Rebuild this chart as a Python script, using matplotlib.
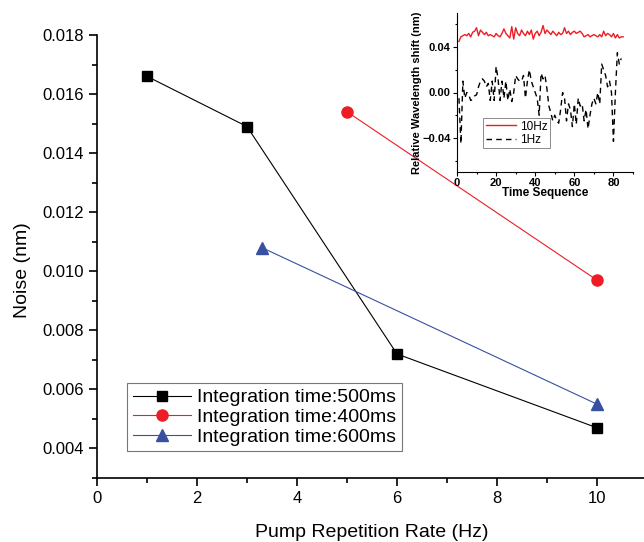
import matplotlib
matplotlib.use("Agg")
import matplotlib.pyplot as plt
from matplotlib.ticker import MultipleLocator
import numpy as np

plt.rcParams["font.family"] = ["Liberation Sans", "DejaVu Sans"]

# main chart data
x500 = [1, 3, 6, 10]
y500 = [0.0166, 0.0149, 0.0072, 0.0047]
x400 = [5, 10]
y400 = [0.0154, 0.0097]
x600 = [3.3, 10]
y600 = [0.0108, 0.0055]

# inset data (relative wavelength shift, nm)
shift_10hz = [
    0.045, 0.049, 0.050, 0.051, 0.050, 0.052, 0.049, 0.053, 0.054, 0.057,
    0.050, 0.055, 0.053, 0.051, 0.053, 0.050, 0.051, 0.050, 0.049, 0.052,
    0.050, 0.049, 0.052, 0.056, 0.052, 0.050, 0.048, 0.058, 0.047, 0.057,
    0.052, 0.050, 0.055, 0.052, 0.050, 0.054, 0.051, 0.055, 0.047, 0.052,
    0.054, 0.050, 0.053, 0.059, 0.052, 0.055, 0.053, 0.051, 0.054, 0.052,
    0.050, 0.053, 0.051, 0.052, 0.057, 0.052, 0.054, 0.051, 0.053, 0.054,
    0.052, 0.053, 0.054, 0.052, 0.049, 0.050, 0.051, 0.049, 0.050, 0.051,
    0.050, 0.049, 0.051, 0.049, 0.054, 0.050, 0.052, 0.051, 0.049, 0.052,
    0.048, 0.051, 0.048, 0.049, 0.049,
]
shift_1hz = [
    -0.005, -0.045, 0.010, -0.005, 0.000, -0.002, -0.007, -0.006, -0.003, -0.002,
    0.005, 0.010, 0.012, 0.010, 0.005, 0.008, -0.007, 0.010, -0.007, 0.023,
    0.012, -0.007, 0.010, -0.005, 0.010, -0.007, 0.003, -0.008, 0.000, 0.015,
    0.012, 0.010, 0.010, 0.015, -0.005, 0.010, 0.020, 0.010, 0.005, 0.000,
    -0.005, -0.020, 0.017, 0.012, 0.015, 0.003, -0.012, -0.018, -0.025, -0.020,
    -0.025, -0.027, -0.015, 0.000, -0.005, -0.025, -0.010, -0.015, -0.030, -0.010,
    -0.028, -0.005, -0.012, -0.010, -0.025, -0.015, -0.032, -0.020, -0.010, -0.005,
    -0.010, 0.000, -0.010, 0.025, 0.020, 0.015, 0.005, 0.010, 0.000, -0.043,
    0.000, 0.035, 0.025, 0.030,
]

RED = "#ee1c24"
BLUE = "#3850a0"

W, H = 644, 542
fig = plt.figure(figsize=(W / 100, H / 100), dpi=100)
ax = fig.add_axes([97 / W, 1 - 478 / H, 550 / W, (478 - 35) / H])

ax.plot(x500, y500, color="black", lw=0.8, marker="s", ms=7, label="Integration time:500ms")
ax.plot(x400, y400, color=RED, lw=0.8, marker="o", ms=8, mfc=RED, mec=RED, label="Integration time:400ms")
ax.plot(x600, y600, color=BLUE, lw=0.8, marker="^", ms=8, mfc=BLUE, mec=BLUE, label="Integration time:600ms")

ax.set_xlim(0, 11)
ax.set_ylim(0.003, 0.018)
ax.xaxis.set_major_locator(MultipleLocator(2))
ax.xaxis.set_minor_locator(MultipleLocator(1))
ax.yaxis.set_minor_locator(MultipleLocator(0.001))
ax.set_yticks(np.arange(0.004, 0.0181, 0.002))
ax.yaxis.set_major_formatter(plt.FuncFormatter(lambda v, p: f"{v:.3f}"))
ax.spines[["top", "right"]].set_visible(False)
ax.spines[["left", "bottom"]].set_linewidth(1.2)
ax.tick_params(which="major", direction="out", length=6, width=1.2, labelsize=12)
ax.tick_params(which="minor", direction="out", length=3.5, width=1.2)
ax.set_xlabel("Pump Repetition Rate (Hz)", fontsize=14, labelpad=13)
ax.set_ylabel("Noise (nm)", fontsize=14, labelpad=8)
ax.yaxis.label.set_y(0.47)

leg = ax.legend(loc="lower left", bbox_to_anchor=(0.055, 0.06), fontsize=14,
                frameon=True, fancybox=False, edgecolor="#555555",
                handlelength=3.0, handletextpad=0.3, borderpad=0.3,
                labelspacing=0.1, borderaxespad=0)
leg.get_frame().set_linewidth(0.8)

# inset
ins = fig.add_axes([457 / W, 1 - 172 / H, 176 / W, (172 - 13) / H])
ins.patch.set_alpha(0)
t = np.arange(1, len(shift_10hz) + 1)
ins.plot(t, shift_10hz, color=RED, lw=1.0, label="10Hz")
t1 = np.arange(1, len(shift_1hz) + 1)
ins.plot(t1, shift_1hz, color="black", lw=1.0, ls=(0, (4, 3)), label="1Hz")
ins.set_xlim(0, 90)
ins.set_ylim(-0.07, 0.07)
ins.set_xticks([0, 20, 40, 60, 80])
ins.xaxis.set_minor_locator(MultipleLocator(10))
ins.set_yticks([-0.04, 0.0, 0.04])
ins.yaxis.set_minor_locator(MultipleLocator(0.02))
ins.yaxis.set_major_formatter(plt.FuncFormatter(lambda v, p: f"{v:.2f}".replace("-", "\u2212")))
ins.spines[["top", "right"]].set_visible(False)
ins.tick_params(which="major", direction="out", length=3, width=0.8, labelsize=8, pad=1.5)
ins.tick_params(which="minor", direction="out", length=1.5, width=0.8)
for lab in ins.get_xticklabels() + ins.get_yticklabels():
    lab.set_fontweight("bold")
ins.set_xlabel("Time Sequence", fontsize=8.5, fontweight="bold", labelpad=-1)
ins.set_ylabel("Relative Wavelength shift (nm)", fontsize=8, fontweight="bold", labelpad=0)
ileg = ins.legend(loc="lower left", bbox_to_anchor=(0.15, 0.15), fontsize=8.5,
                  frameon=True, fancybox=False, edgecolor="#555555",
                  handlelength=2.6, handletextpad=0.3, borderpad=0.2,
                  labelspacing=0.1, borderaxespad=0)
ileg.get_frame().set_linewidth(0.6)

fig.savefig("out.png", dpi=100)
